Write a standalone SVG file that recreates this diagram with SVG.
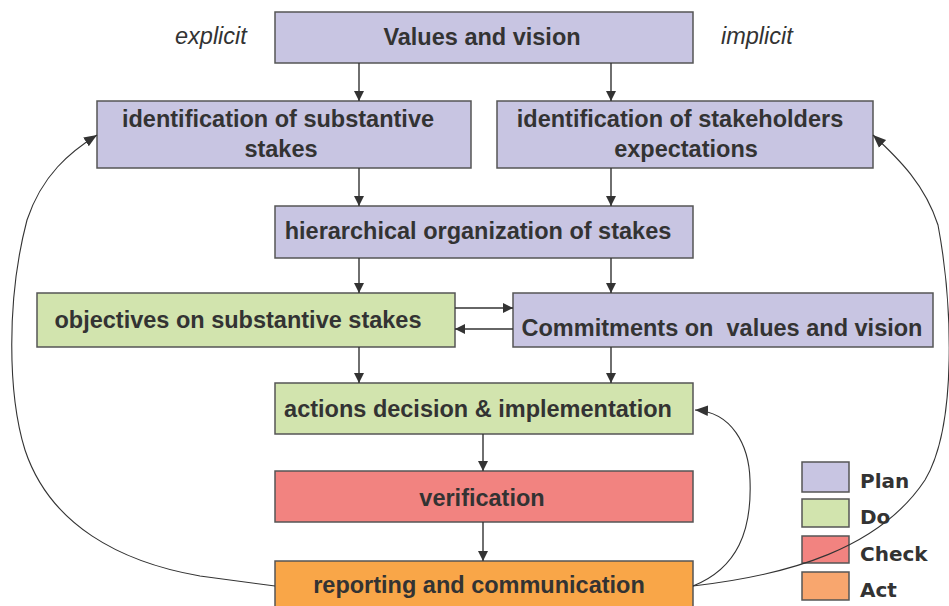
<svg xmlns="http://www.w3.org/2000/svg" width="949" height="606" viewBox="0 0 949 606">
<style>
.box{stroke:#555;stroke-width:1.5}
.plan{fill:#c8c5e2}
.do{fill:#d2e4ae}
.check{fill:#f28380}
.act{fill:#f9a648}
.actl{fill:#f8a66e}
.t{font-family:"Liberation Sans",Arial,sans-serif;font-weight:bold;font-size:23.5px;fill:#333;text-anchor:middle;white-space:pre}
.it{font-family:"Liberation Sans",Arial,sans-serif;font-style:italic;font-size:23.5px;fill:#333}
.lg{font-family:"DejaVu Sans",Verdana,sans-serif;font-weight:bold;font-size:20px;fill:#333}
.c{fill:none;stroke:#333;stroke-width:1.4}
.cv{fill:none;stroke:#333;stroke-width:1.1}
</style>
<defs>
<marker id="ah" viewBox="0 0 10 10" refX="10" refY="5" markerWidth="10" markerHeight="10" markerUnits="userSpaceOnUse" orient="auto">
<path d="M0,0 L10,5 L0,10 z" fill="#333"/>
</marker>
<marker id="ah2" viewBox="0 0 10 10" refX="10" refY="5" markerWidth="13" markerHeight="13" markerUnits="userSpaceOnUse" orient="auto">
<path d="M0,1 L10,5 L0,9 z" fill="#333"/>
</marker>
</defs>
<text class="it" x="175" y="44">explicit</text>
<text class="it" x="721" y="44">implicit</text>
<g id="values"><rect class="box plan" x="275" y="12" width="418" height="51"/><text class="t" x="482" y="45">Values and vision</text></g>
<g id="substantive"><rect class="box plan" x="97" y="101" width="374" height="67"/><text class="t" x="278" y="127">identification of substantive</text><text class="t" x="281" y="157">stakes</text></g>
<g id="stakeholders"><rect class="box plan" x="497" y="101" width="376" height="67"/><text class="t" x="680" y="127">identification of stakeholders</text><text class="t" x="686" y="157">expectations</text></g>
<g id="hierarchical"><rect class="box plan" x="275" y="206" width="418" height="52"/><text class="t" x="478" y="239">hierarchical organization of stakes</text></g>
<g id="objectives"><rect class="box do" x="37" y="293" width="418" height="54"/><text class="t" x="238" y="328">objectives on substantive stakes</text></g>
<g id="commitments"><rect class="box plan" x="513" y="293" width="420" height="54"/><text class="t" x="722" y="336">Commitments on  values and vision</text></g>
<g id="actions"><rect class="box do" x="275" y="383" width="418" height="51"/><text class="t" x="478" y="417">actions decision &amp; implementation</text></g>
<g id="verification"><rect class="box check" x="275" y="471" width="418" height="51"/><text class="t" x="482" y="506">verification</text></g>
<g id="reporting"><rect class="box act" x="275" y="561" width="418" height="60"/><text class="t" x="479" y="593">reporting and communication</text></g>
<g id="legend">
<rect class="box plan" x="802" y="462" width="47" height="30"/><text class="lg" x="860" y="488">Plan</text>
<rect class="box do" x="802" y="499" width="47" height="28"/><text class="lg" x="860" y="524">Do</text>
<rect class="box check" x="802" y="536" width="47" height="27"/><text class="lg" x="860" y="561">Check</text>
<rect class="box actl" x="802" y="572" width="47" height="28"/><text class="lg" x="860" y="597">Act</text>
</g>
<g id="connectors">
<line class="c" x1="359" y1="63" x2="359" y2="101" marker-end="url(#ah)"/>
<line class="c" x1="611" y1="63" x2="611" y2="101" marker-end="url(#ah)"/>
<line class="c" x1="359" y1="168" x2="359" y2="206" marker-end="url(#ah)"/>
<line class="c" x1="611" y1="168" x2="611" y2="206" marker-end="url(#ah)"/>
<line class="c" x1="359" y1="258" x2="359" y2="293" marker-end="url(#ah)"/>
<line class="c" x1="611" y1="258" x2="611" y2="293" marker-end="url(#ah)"/>
<line class="c" x1="455" y1="308" x2="513" y2="308" marker-end="url(#ah)"/>
<line class="c" x1="513" y1="329" x2="455" y2="329" marker-end="url(#ah)"/>
<line class="c" x1="359" y1="347" x2="359" y2="383" marker-end="url(#ah)"/>
<line class="c" x1="611" y1="347" x2="611" y2="383" marker-end="url(#ah)"/>
<line class="c" x1="483" y1="434" x2="483" y2="471" marker-end="url(#ah)"/>
<line class="c" x1="483" y1="522" x2="483" y2="561" marker-end="url(#ah)"/>
<path class="cv" d="M275,586 L200,576 C120,562 50,525 25,450 C8,395 6,300 27,220 C42,175 70,152 97,135" marker-end="url(#ah2)"/>
<path class="cv" d="M693,586 C790,575 880,548 925,480 C958,425 952,300 938,225 C925,185 900,160 873,135" marker-end="url(#ah2)"/>
<path class="cv" d="M693,586 C738,568 752,530 750,480 C749,445 732,412 695,410" marker-end="url(#ah2)"/>
</g>
</svg>
